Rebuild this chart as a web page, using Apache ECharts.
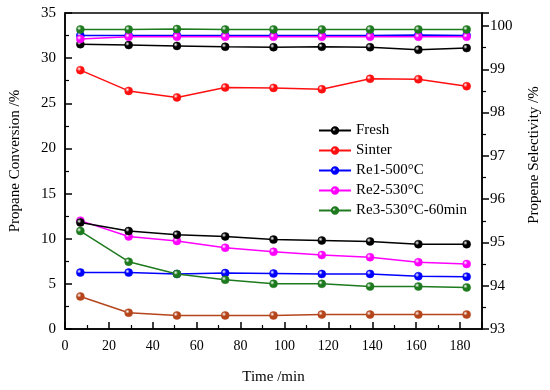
<!DOCTYPE html>
<html>
<head>
<meta charset="utf-8">
<script src="https://cdn.jsdelivr.net/npm/echarts@6/dist/echarts.min.js"></script>
<style>html,body{margin:0;padding:0;background:#fff}#c{width:550px;height:390px}</style>
</head>
<body>
<div id="c"></div>
<script>
var time = [7, 29, 51, 73, 95, 117, 139, 161, 183];
var seriesNames = ['Fresh', 'Sinter', 'Re1-500°C', 'Re2-530°C', 'Re3-530°C-60min'];
// Propane conversion (left axis)
var convFresh  = [11.8, 10.85, 10.45, 10.25, 9.9, 9.8, 9.7, 9.4, 9.4];
var convSinter = [3.6, 1.8, 1.5, 1.5, 1.5, 1.6, 1.6, 1.6, 1.6];
var convRe1    = [6.25, 6.25, 6.1, 6.2, 6.15, 6.1, 6.1, 5.85, 5.8];
var convRe2    = [12.0, 10.25, 9.75, 9.0, 8.55, 8.2, 7.95, 7.4, 7.2];
var convRe3    = [10.85, 7.45, 6.1, 5.45, 5.0, 5.0, 4.7, 4.7, 4.6];
// Propene selectivity (right axis)
var selFresh  = [99.58, 99.56, 99.54, 99.52, 99.51, 99.52, 99.51, 99.45, 99.49];
var selSinter = [98.98, 98.5, 98.35, 98.58, 98.57, 98.54, 98.78, 98.77, 98.61];
var selRe1    = [99.78, 99.78, 99.78, 99.78, 99.78, 99.78, 99.78, 99.79, 99.78];
var selRe2    = [99.70, 99.75, 99.75, 99.75, 99.75, 99.75, 99.75, 99.75, 99.75];
var selRe3    = [99.92, 99.92, 99.93, 99.92, 99.92, 99.92, 99.92, 99.92, 99.92];
var leftTicks = [0, 5, 10, 15, 20, 25, 30, 35];
var rightTicks = [93, 94, 95, 96, 97, 98, 99, 100];

var colors = {
  'Fresh': '#000000',
  'Sinter': '#ff1010',
  'Re1-500°C': '#0000ff',
  'Re2-530°C': '#ff00ff',
  'Re3-530°C-60min': '#1e7a1e'
};
var sinterConvColor = '#b5461c';

function pairs(ys) { return time.map(function (t, i) { return [t, ys[i]]; }); }
function sphere(c) {
  return { type: 'radial', x: 0.35, y: 0.35, r: 0.75,
    colorStops: [{ offset: 0, color: '#ffffff' }, { offset: 0.35, color: c }, { offset: 1, color: c }] };
}
function mk(name, ys, axis, color) {
  return {
    name: name, type: 'line', yAxisIndex: axis, data: pairs(ys),
    symbol: 'circle', symbolSize: 8,
    lineStyle: { color: color, width: 1.5 },
    itemStyle: { color: sphere(color), borderColor: color, borderWidth: 0.5 },
    emphasis: { disabled: true }, animation: false, z: 3
  };
}

var font = 'Liberation Serif, Times New Roman, serif';
var chart = echarts.init(document.getElementById('c'), null, { renderer: 'canvas' });
chart.setOption({
  backgroundColor: '#ffffff',
  animation: false,
  grid: { left: 61, right: 67, top: 13, bottom: 61, show: true, borderColor: '#000', borderWidth: 1.5, backgroundColor: 'transparent' },
  legend: {
    data: seriesNames,
    orient: 'vertical', left: 313, top: 118,
    itemWidth: 32, itemHeight: 8, itemGap: 5,
    textStyle: { fontFamily: font, fontSize: 15, color: '#000' }
  },
  xAxis: {
    type: 'value', min: 0, max: 190, interval: 20,
    name: 'Time /min', nameLocation: 'middle', nameGap: 41,
    nameTextStyle: { fontFamily: font, fontSize: 15, color: '#000' },
    axisLine: { lineStyle: { color: '#000', width: 1.5 } },
    axisTick: { inside: true, length: 7, lineStyle: { color: '#000', width: 1.5 } },
    minorTick: { show: true, splitNumber: 2, length: 4, lineStyle: { color: '#000', width: 1.2 } },
    axisLabel: { fontFamily: font, fontSize: 14, color: '#000', margin: 10,
      formatter: function (v) { return v % 20 === 0 ? String(v) : ''; } },
    splitLine: { show: false }
  },
  yAxis: [{
    type: 'value', min: 0, max: 35, interval: 5, position: 'left',
    name: 'Propane Conversion /%', nameLocation: 'middle', nameGap: 42, nameRotate: 90,
    nameTextStyle: { fontFamily: font, fontSize: 15, color: '#000', padding: [0, 0, 0, 20] },
    axisLine: { show: true, lineStyle: { color: '#000', width: 1.5 } },
    axisTick: { show: true, inside: true, length: 7, lineStyle: { color: '#000', width: 1.5 } },
    minorTick: { show: true, splitNumber: 2, length: 4, lineStyle: { color: '#000', width: 1.2 } },
    axisLabel: { fontFamily: font, fontSize: 15, color: '#000', margin: 9,
      formatter: function (v) { return leftTicks.indexOf(v) >= 0 ? String(v) : ''; } },
    splitLine: { show: false }
  }, {
    type: 'value', min: 93, max: 100.3, interval: 1, position: 'right',
    name: 'Propene Selectivity /%', nameLocation: 'middle', nameGap: 45, nameRotate: 90,
    nameTextStyle: { fontFamily: font, fontSize: 15, color: '#000', padding: [0, 0, 0, 32] },
    axisLine: { show: true, lineStyle: { color: '#000', width: 1.5 } },
    axisTick: { show: true, inside: false, length: 7, lineStyle: { color: '#000', width: 1.5 } },
    minorTick: { show: true, splitNumber: 2, length: 4, lineStyle: { color: '#000', width: 1.2 } },
    axisLabel: { fontFamily: font, fontSize: 15, color: '#000', margin: 8,
      formatter: function (v) { return rightTicks.indexOf(v) >= 0 ? String(v) : ''; } },
    splitLine: { show: false }
  }],
  series: [
    mk('Fresh', selFresh, 1, colors['Fresh']),
    mk('Sinter', selSinter, 1, colors['Sinter']),
    mk('Re1-500°C', selRe1, 1, colors['Re1-500°C']),
    mk('Re2-530°C', selRe2, 1, colors['Re2-530°C']),
    mk('Re3-530°C-60min', selRe3, 1, colors['Re3-530°C-60min']),
    mk('Re1-500°C', convRe1, 0, colors['Re1-500°C']),
    mk('Re2-530°C', convRe2, 0, colors['Re2-530°C']),
    mk('Fresh', convFresh, 0, colors['Fresh']),
    mk('Re3-530°C-60min', convRe3, 0, colors['Re3-530°C-60min']),
    mk('Sinter', convSinter, 0, sinterConvColor)
  ]
});
</script>
</body>
</html>
